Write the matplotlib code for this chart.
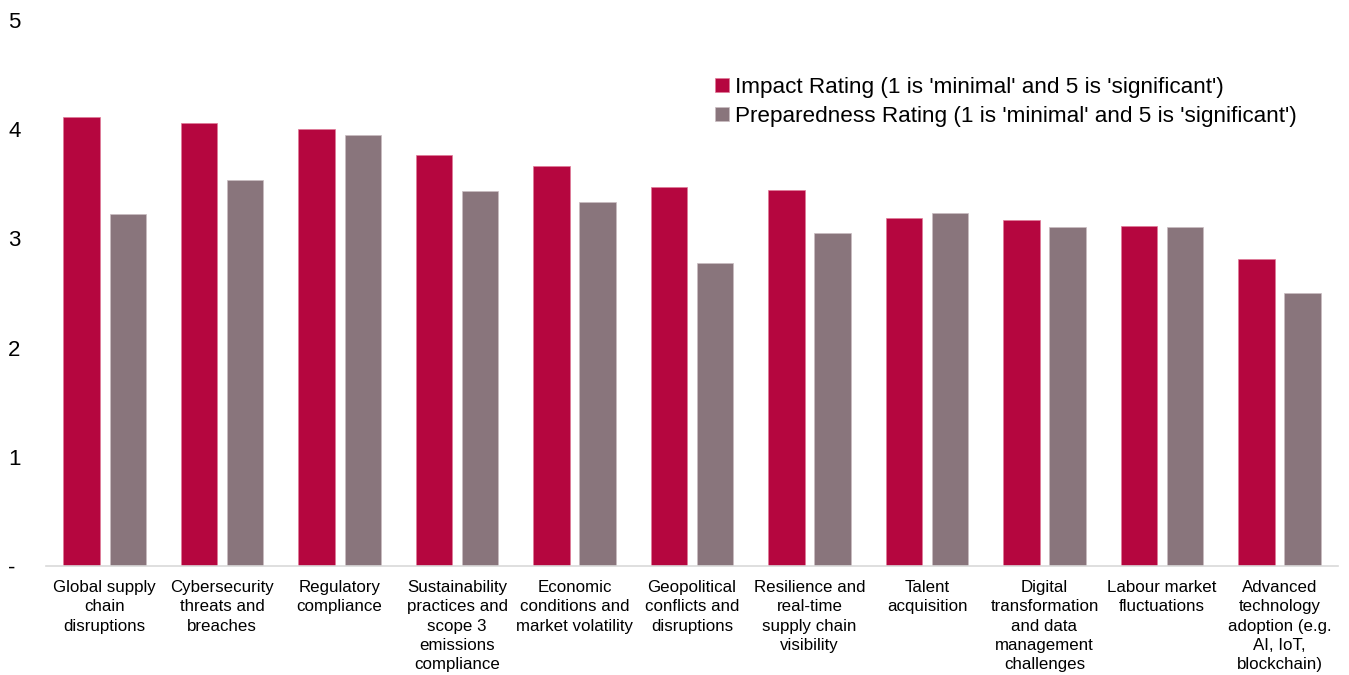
import numpy as np
import matplotlib.pyplot as plt

plt.rcParams['font.family'] = ['Liberation Sans', 'DejaVu Sans']

categories = ['Global supply\nchain\ndisruptions', 'Cybersecurity\nthreats and\nbreaches',
              'Regulatory\ncompliance', 'Sustainability\npractices and\nscope 3\nemissions\ncompliance',
              'Economic\nconditions and\nmarket volatility', 'Geopolitical\nconflicts and\ndisruptions',
              'Resilience and\nreal-time\nsupply chain\nvisibility', 'Talent\nacquisition',
              'Digital\ntransformation\nand data\nmanagement\nchallenges', 'Labour market\nfluctuations',
              'Advanced\ntechnology\nadoption (e.g.\nAI, IoT,\nblockchain)']
impact = [4.11, 4.06, 4.00, 3.76, 3.66, 3.47, 3.44, 3.19, 3.17, 3.11, 2.81]
preparedness = [3.22, 3.53, 3.95, 3.43, 3.33, 2.77, 3.05, 3.23, 3.10, 3.10, 2.50]
y_ticks = [0, 1, 2, 3, 4, 5]
y_labels = ['-', '1', '2', '3', '4', '5']

fig = plt.figure(figsize=[13.49, 6.75], dpi=100)
ax = fig.add_axes([0.034, 0.1615, 0.958, 0.809])

x = np.arange(len(categories))
w = 0.31
ax.bar(x - 0.197, impact, w, color='#B5063F', edgecolor='#E07A98', linewidth=0.5,
       label="Impact Rating (1 is 'minimal' and 5 is 'significant')")
ax.bar(x + 0.197, preparedness, w, color='#89757C', edgecolor='#C9BCC1', linewidth=0.5,
       label="Preparedness Rating (1 is 'minimal' and 5 is 'significant')")

ax.set_xlim(-0.5, len(categories) - 0.5)
ax.set_ylim(0, 5)
ax.set_yticks(y_ticks)
ax.set_yticklabels(y_labels, fontsize=16, ha='left')
ax.tick_params(axis='y', length=0, pad=27)
ax.set_xticks(x)
ax.set_xticklabels(categories, fontsize=12.2, linespacing=1.36)
ax.tick_params(axis='x', length=0, pad=10)

for s in ['top', 'right', 'left']:
    ax.spines[s].set_visible(False)
ax.spines['bottom'].set_color('#D9D9D9')
ax.spines['bottom'].set_linewidth(1.2)

ax.legend(loc='center left', bbox_to_anchor=(0.518, 0.85), frameon=False, fontsize=16.2,
          borderpad=0, borderaxespad=0,
          handlelength=0.62, handleheight=0.62, handletextpad=0.27, labelspacing=0.35)

plt.savefig('out.png')
plt.close()
